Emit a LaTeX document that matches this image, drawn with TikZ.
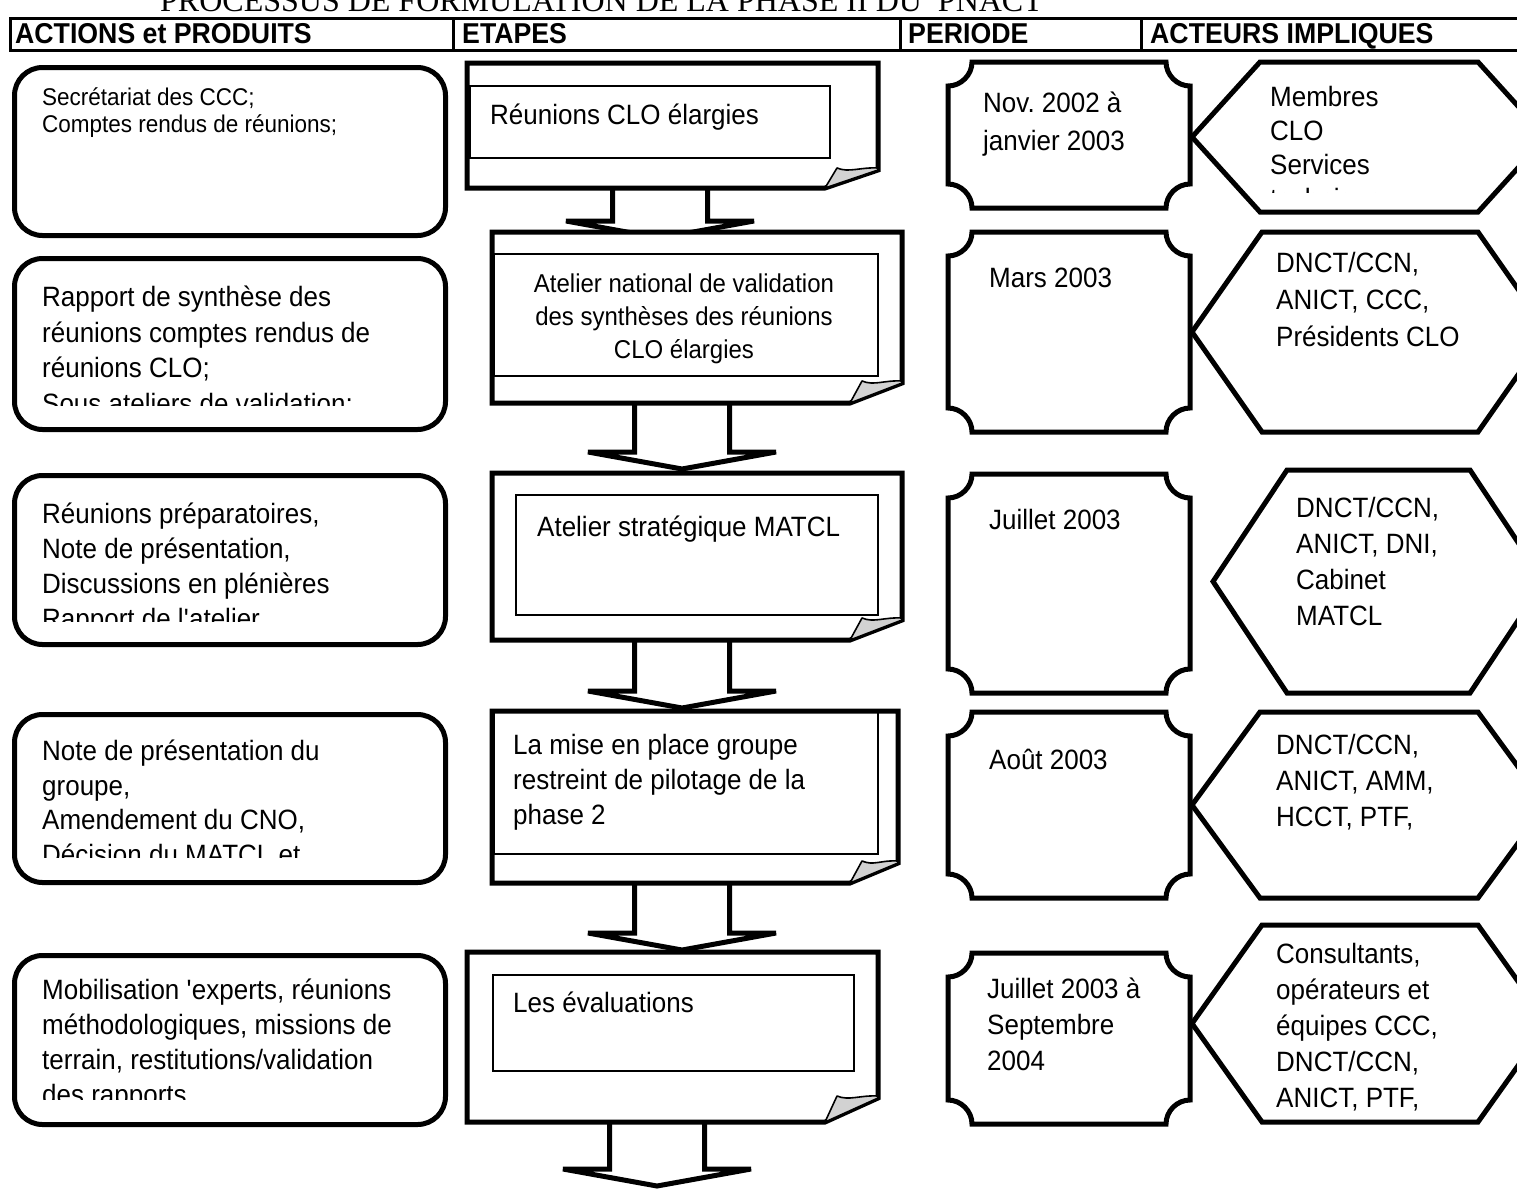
\documentclass[tikz,border=0pt]{standalone}
\usepackage{fontspec}
\setmainfont{Liberation Sans}[FakeStretch=0.93, Scale=1.075]
\newfontfamily\titlefont{Liberation Serif}
\usetikzlibrary{calc}
\tikzset{
  heavy/.style={line width=5pt, line join=miter},
  thinbox/.style={draw, line width=1.8pt, inner sep=0pt, anchor=north west},
  fold/.style={line width=1.6pt, fill=gray!35, line join=round},
  barrow/.style={line width=5pt, fill=white, line join=miter},
  actbox/.style={draw, line width=5pt, rounded corners=28pt, inner sep=0pt, anchor=north west, fill=white},
  txt/.style={inner sep=0pt, anchor=base west, align=left, font=\fontsize{26}{36}\selectfont},
  hdr/.style={inner sep=0pt, anchor=base west, font=\bfseries\fontsize{26.7}{30}\selectfont},
}
% step frame with curled corner: name, x0, y0, x1, y1, curl height, curl width
\newcommand\stepframe[7]{%
  \coordinate (#1nw) at (#2,#3);
  \coordinate (#1se) at (#4,#5);
  \draw[heavy, fill=white] (#2,#3) -- (#4,#3) -- (#4,{#5-#6}) -- ({#4-#7},#5) -- (#2,#5) -- cycle;
  \draw[fold] ({#4-#7},#5) -- ({#4-#7+12},{#5-#6-2}) .. controls ({#4-#7+24},{#5-#6+3}) and ({#4-18},{#5-#6-3}) .. (#4,{#5-#6-2}) -- (#4,{#5-#6}) -- cycle;
}
% plaque (concave corners): name x0 y0 x1 y1
\newcommand\plaque[5]{%
  \draw[heavy, fill=white] ({#2+24},#3) -- ({#4-24},#3)
    .. controls ({#4-24},{#3+13}) and ({#4-13},{#3+24}) .. (#4,{#3+24})
    -- (#4,{#5-24})
    .. controls ({#4-13},{#5-24}) and ({#4-24},{#5-13}) .. ({#4-24},#5)
    -- ({#2+24},#5)
    .. controls ({#2+24},{#5-13}) and ({#2+13},{#5-24}) .. (#2,{#5-24})
    -- (#2,{#3+24})
    .. controls ({#2+13},{#3+24}) and ({#2+24},{#3+13}) .. ({#2+24},#3) -- cycle;
  \coordinate (#1) at ({(#2+#4)/2},{(#3+#5)/2});
}
% hexagon: name, x of left point, ytop, ybottom, x top-left, x top-right
\newcommand\hexa[6]{%
  \draw[heavy, fill=white] (#2,{(#3+#4)/2}) -- (#5,#3) -- (#6,#3) -- ({#6+#5-#2},{(#3+#4)/2}) -- (#6,#4) -- (#5,#4) -- cycle;
  \coordinate (#1) at ({(#5+#6)/2},{(#3+#4)/2});
}
% block arrow from a top coordinate to a tip coordinate
\newcommand\blockarrow[2]{%
  \draw[barrow] let \p1=(#1), \p2=(#2) in
   (\x1-47.5pt,\y1) -- (\x1-47.5pt,\y2+17pt) -- (\x1-94pt,\y2+17pt) -- (\x2,\y2)
   -- (\x1+94pt,\y2+17pt) -- (\x1+47.5pt,\y2+17pt) -- (\x1+47.5pt,\y1);}

\begin{document}
\begin{tikzpicture}[x=1pt,y=-1pt]
\useasboundingbox (0,0) rectangle (1517,1189);
\fill[white] (0,0) rectangle (1517,1189);
\clip (0,0) rectangle (1517,1189);

% title (cut at the top edge)
\node[inner sep=0pt, anchor=base west, font=\titlefont\fontsize{32}{38}\selectfont] (title) at (160,11) {PROCESSUS DE FORMULATION DE LA PHASE II DU\ \ PNACT};

% header row
\draw[line width=3pt] (10,18) rectangle (1530,50);
\draw[line width=3pt] (453,18) -- (453,50) (900,18) -- (900,50) (1141,18) -- (1141,50);
\node[hdr] (h1) at (15,43) {ACTIONS et PRODUITS};
\node[hdr] (h2) at (462,43) {ETAPES};
\node[hdr] (h3) at (908,43) {PERIODE};
\node[hdr] (h4) at (1150,43) {ACTEURS IMPLIQUES};

% ---------- block arrows (drawn first, boxes cover their ends)
\coordinate (ar1a) at (660,188);  \coordinate (ar1b) at (660,238);
\coordinate (ar2a) at (682,403);  \coordinate (ar2b) at (682,469);
\coordinate (ar3a) at (682,640);  \coordinate (ar3b) at (682,708);
\coordinate (ar4a) at (682,883);  \coordinate (ar4b) at (682,950);
\coordinate (ar5a) at (657,1122); \coordinate (ar5b) at (657,1186);
\blockarrow{ar1a}{ar1b}
\blockarrow{ar2a}{ar2b}
\blockarrow{ar3a}{ar3b}
\blockarrow{ar4a}{ar4b}
\blockarrow{ar5a}{ar5b}

% ---------- column 1 : actions et produits
\node[actbox, minimum width=431pt, minimum height=168pt] (a1) at (12,65) {};
\node[inner sep=0pt, anchor=base west, align=left, font=\fontsize{22.5}{27}\selectfont] (a1t) at (42,132) {Secrétariat des CCC;\\Comptes rendus de réunions;};

\node[actbox, minimum width=431pt, minimum height=171pt] (a2) at (12,256) {};
\begin{scope}
\clip (20,260) rectangle (440,405);
\node[txt, font=\fontsize{26}{35.5}\selectfont] (a2t) at (42,413) {Rapport de synthèse des\\réunions comptes rendus de\\réunions CLO;\\Sous ateliers de validation;};
\end{scope}

\node[actbox, minimum width=431pt, minimum height=169pt] (a3) at (12,473) {};
\begin{scope}
\clip (20,478) rectangle (440,621);
\node[txt, font=\fontsize{26}{35}\selectfont] (a3t) at (42,628) {Réunions préparatoires,\\Note de présentation,\\Discussions en plénières\\Rapport de l\textquotesingle atelier};
\end{scope}

\node[actbox, minimum width=431pt, minimum height=168pt] (a4) at (12,712) {};
\begin{scope}
\clip (20,716) rectangle (440,857);
\node[txt, font=\fontsize{26}{34.5}\selectfont] (a4t) at (42,864) {Note de présentation du\\groupe,\\Amendement du CNO,\\Décision du MATCL et};
\end{scope}

\node[actbox, minimum width=431pt, minimum height=169pt] (a5) at (12,953) {};
\begin{scope}
\clip (20,957) rectangle (440,1099);
\node[txt, font=\fontsize{26}{35}\selectfont] (a5t) at (42,1104) {Mobilisation \textquotesingle experts, réunions\\méthodologiques, missions de\\terrain, restitutions/validation\\des rapports};
\end{scope}

% ---------- column 2 : etapes
\stepframe{s1f}{467}{63}{878}{188}{18}{53}
\node[thinbox, minimum width=360pt, minimum height=72pt] (s1) at (469,85) {};
\node[txt] (s1t) at (490,124) {Réunions CLO élargies};

\stepframe{s2f}{492}{232}{902}{403}{20}{52}
\node[thinbox, minimum width=384pt, minimum height=122pt] (s2) at (493,253) {};
\node[inner sep=0pt, anchor=base, align=center, font=\fontsize{24}{33}\selectfont] (s2t) at (684,358) {Atelier national de validation\\des synthèses des réunions\\CLO élargies};

\stepframe{s3f}{492}{473}{902}{640}{20}{52}
\node[thinbox, minimum width=362pt, minimum height=120pt] (s3) at (515,494) {};
\node[txt] (s3t) at (537,536) {Atelier stratégique MATCL};

\stepframe{s4f}{492}{711}{898}{883}{20}{48}
\node[thinbox, minimum width=384pt, minimum height=142pt] (s4) at (493,711) {};
\node[txt, font=\fontsize{26}{35}\selectfont] (s4t) at (513,824) {La mise en place groupe\\restreint de pilotage de la\\phase 2};

\stepframe{s5f}{467}{952}{878}{1122}{24}{53}
\node[thinbox, minimum width=361pt, minimum height=96pt] (s5) at (492,974) {};
\node[txt] (s5t) at (513,1012) {Les évaluations};

% ---------- column 3 : periode
\plaque{p1}{948}{62}{1190}{208}
\node[txt, font=\fontsize{26}{38}\selectfont] (p1t) at (983,150) {Nov.\ 2002 à\\janvier 2003};
\plaque{p2}{948}{232}{1190}{432}
\node[txt] (p2t) at (989,287) {Mars 2003};
\plaque{p3}{948}{474}{1190}{693}
\node[txt] (p3t) at (989,529) {Juillet 2003};
\plaque{p4}{948}{712}{1190}{898}
\node[txt] (p4t) at (989,769) {Août 2003};
\plaque{p5}{948}{953}{1190}{1124}
\node[txt] (p5t) at (987,1070) {Juillet 2003 à\\Septembre\\2004};

% ---------- column 4 : acteurs impliques
\hexa{x1}{1192}{62}{212}{1260}{1478}
\begin{scope}
\clip (1200,66) rectangle (1500,192);
\node[txt, font=\fontsize{26}{34}\selectfont] (x1t) at (1270,208) {Membres\\CLO\\Services\\techniques};
\end{scope}
\hexa{x2}{1192}{232}{432}{1262}{1478}
\node[txt, font=\fontsize{26}{37}\selectfont] (x2t) at (1276,346) {DNCT/CCN,\\ANICT, CCC,\\Présidents CLO};
\hexa{x3}{1213}{470}{693}{1287}{1470}
\node[txt] (x3t) at (1296,625) {DNCT/CCN,\\ANICT, DNI,\\Cabinet\\MATCL};
\hexa{x4}{1192}{712}{898}{1260}{1478}
\node[txt] (x4t) at (1276,826) {DNCT/CCN,\\ANICT, AMM,\\HCCT, PTF,};
\hexa{x5}{1192}{925}{1122}{1262}{1478}
\node[txt] (x5t) at (1276,1107) {Consultants,\\opérateurs et\\équipes CCC,\\DNCT/CCN,\\ANICT, PTF,};
\end{tikzpicture}
\end{document}
